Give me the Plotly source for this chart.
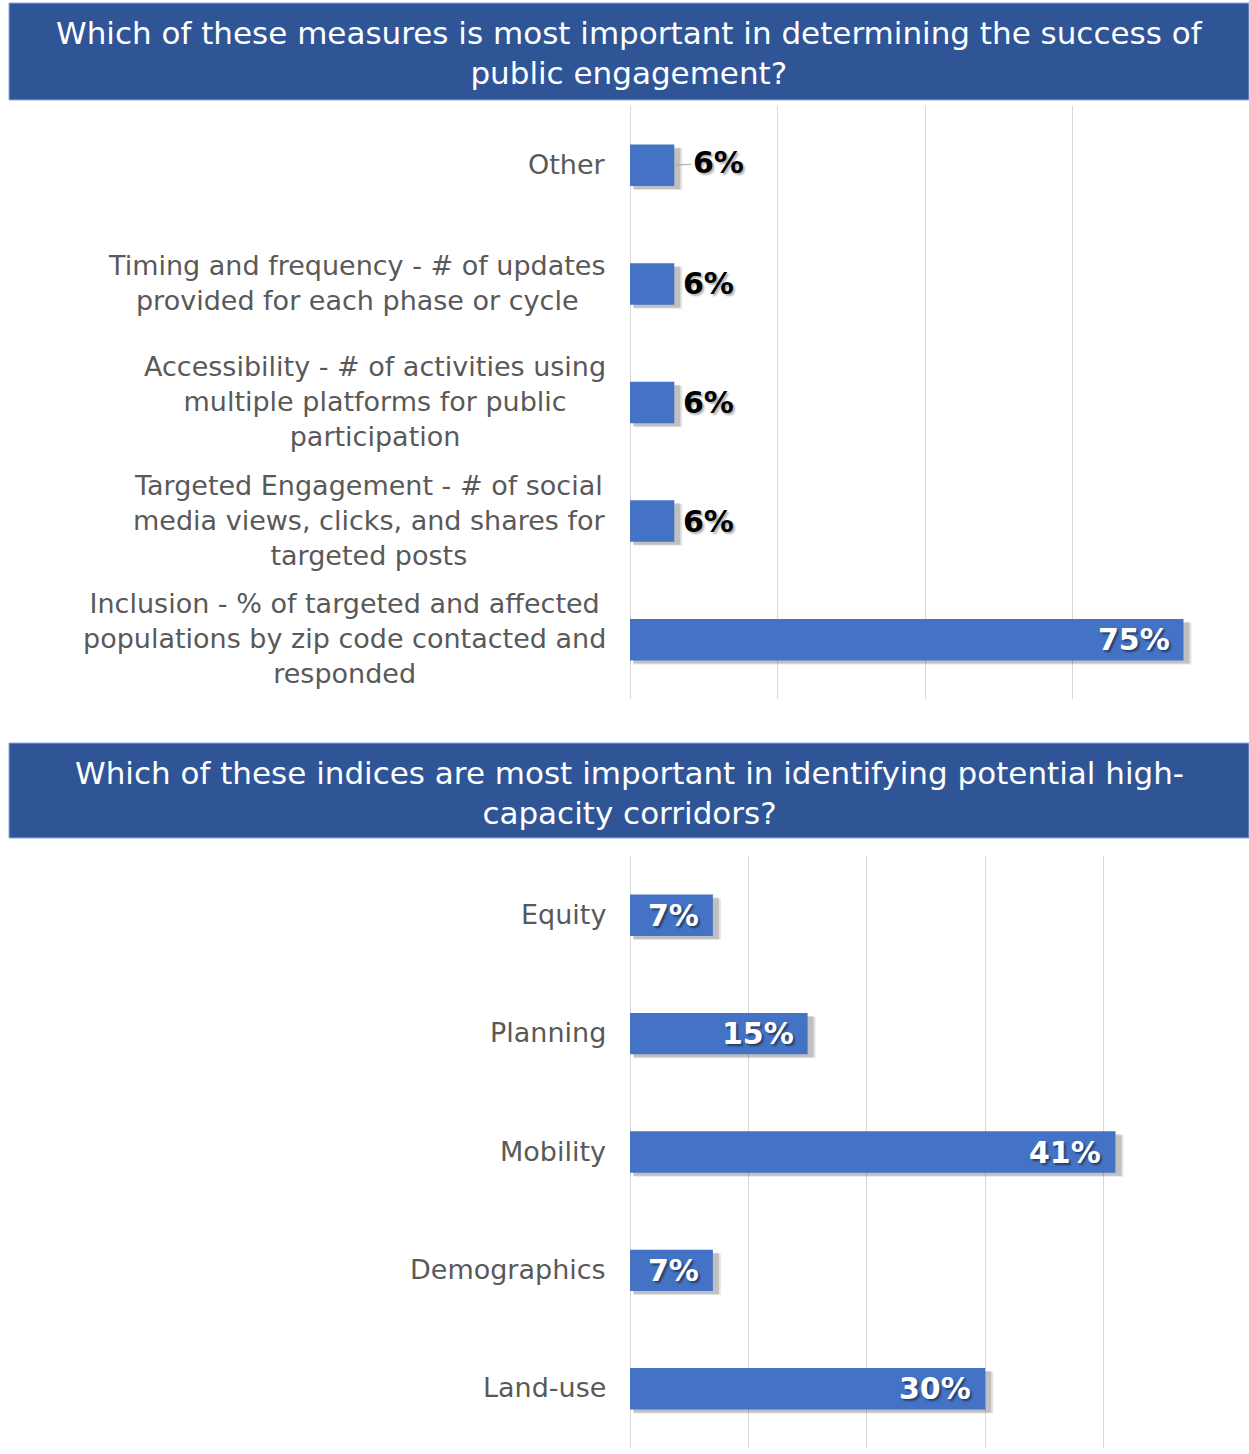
import plotly.graph_objects as go

# ---- data ----
measure_labels = [
    "Other",
    "Timing and frequency - # of updates<br>provided for each phase or cycle",
    "Accessibility - # of activities using<br>multiple platforms for public<br>participation",
    "Targeted Engagement - # of social<br>media views, clicks, and shares for<br>targeted posts",
    "Inclusion - % of targeted and affected<br>populations by zip code contacted and<br>responded",
]
measure_share = [6, 6, 6, 6, 75]

index_labels = ["Equity", "Planning", "Mobility", "Demographics", "Land-use"]
index_share = [7, 15, 41, 7, 30]

title_top = "Which of these measures is most important in determining the success of<br>public engagement?"
title_bottom = "Which of these indices are most important in identifying potential high-<br>capacity corridors?"

# ---- styling ----
W, H = 1249, 1454
BAR = "#4472C4"
BANNER = "#2F5597"
GRID = "#D9D9D9"
LABEL_GREY = "#595959"
FONT = "DejaVu Sans"
X_DOMAIN = [630 / W, 1210 / W]
TOP_DOMAIN = [1 - 699 / H, 1 - 106 / H]
BOT_DOMAIN = [1 - 1448 / H, 1 - 856 / H]
BAR_W = 0.35

fig = go.Figure()


def add_panel(cats, vals, xa, ya, px_per_unit):
    xref = "x" if xa == "x" else "x2"
    yref = "y" if ya == "y" else "y2"
    # soft drop shadow under each bar
    for k, alpha in enumerate([0.10, 0.16]):
        shift = (4 - k) / px_per_unit
        fig.add_trace(go.Bar(
            x=[v + shift for v in vals], y=cats, base=shift, orientation="h",
            width=BAR_W, offset=-BAR_W / 2 + (4 - k) / 118.5,
            marker=dict(color=f"rgba(0,0,0,{alpha})", line=dict(width=0)),
            hoverinfo="skip", showlegend=False, xaxis=xref, yaxis=yref,
        ))
    fig.add_trace(go.Bar(
        x=vals, y=cats, orientation="h", width=BAR_W, offset=-BAR_W / 2,
        marker=dict(color=BAR, line=dict(width=0)),
        showlegend=False, xaxis=xref, yaxis=yref,
    ))
    # category labels, centred line by line
    for c in cats:
        fig.add_annotation(
            text=c, x=X_DOMAIN[0], xref="paper", y=c, yref=yref,
            xanchor="right", yanchor="middle", align="center", xshift=-22,
            yshift=1, showarrow=False,
            font=dict(family=FONT, size=27, color=LABEL_GREY),
        )


add_panel(measure_labels, measure_share, "x", "y", 7.38)
add_panel(index_labels, index_share, "x2", "y2", 11.84)

white_label = dict(family=FONT, size=30, color="white", weight="bold",
                   shadow="2px 2px 2px rgba(0,0,0,0.45)")
black_label = dict(family=FONT, size=30, color="black", weight="bold",
                   shadow="2px 2px 2px rgba(0,0,0,0.30)")

# value labels, top panel
for c, v in zip(measure_labels, measure_share):
    if v > 50:
        fig.add_annotation(text=f"{v}%", x=v, xref="x", y=c, yref="y",
                           xanchor="right", xshift=-12, showarrow=False, font=white_label)
    elif c == "Other":
        fig.add_annotation(text=f"{v}%", x=v, xref="x", y=c, yref="y",
                           ax=44, ay=-3, showarrow=True, arrowhead=0, arrowwidth=1,
                           arrowcolor="#A6A6A6", standoff=0, font=black_label)
    else:
        fig.add_annotation(text=f"{v}%", x=v, xref="x", y=c, yref="y",
                           xanchor="left", xshift=7, showarrow=False, font=black_label)

# value labels, bottom panel
for c, v in zip(index_labels, index_share):
    fig.add_annotation(text=f"{v}%", x=v, xref="x2", y=c, yref="y2",
                       xanchor="right", xshift=-12, showarrow=False, font=white_label)

# title banners
for (y0, y1), title in [((3, 100), title_top), ((743, 838), title_bottom)]:
    fig.add_shape(type="rect", xref="paper", yref="paper",
                  x0=9 / W, x1=1, y0=1 - y1 / H, y1=1 - y0 / H,
                  fillcolor=BANNER, line=dict(color="#8FAADC", width=1), layer="below")
    fig.add_annotation(
        text=title, xref="paper", yref="paper",
        x=(9 / W + 1) / 2, y=1 - (y0 + y1) / 2 / H, yshift=-2,
        xanchor="center", yanchor="middle", align="center", showarrow=False,
        font=dict(family=FONT, size=31, color="white"),
    )

axis_common = dict(showticklabels=False, ticks="", showline=False,
                   showgrid=True, gridcolor=GRID, gridwidth=1,
                   zeroline=True, zerolinecolor=GRID, zerolinewidth=1, fixedrange=True)

fig.update_layout(
    width=W, height=H,
    margin=dict(l=0, r=0, t=0, b=0),
    paper_bgcolor="white", plot_bgcolor="white",
    barmode="overlay",
    xaxis=dict(domain=X_DOMAIN, range=[0, 580 / 7.38], dtick=20, anchor="y", **axis_common),
    yaxis=dict(domain=TOP_DOMAIN, autorange="reversed", showticklabels=False,
               showgrid=False, zeroline=False, anchor="x"),
    xaxis2=dict(domain=X_DOMAIN, range=[0, 580 / 11.84], dtick=10, anchor="y2", **axis_common),
    yaxis2=dict(domain=BOT_DOMAIN, autorange="reversed", showticklabels=False,
                showgrid=False, zeroline=False, anchor="x2"),
    showlegend=False,
)

fig.write_html("out.html")
